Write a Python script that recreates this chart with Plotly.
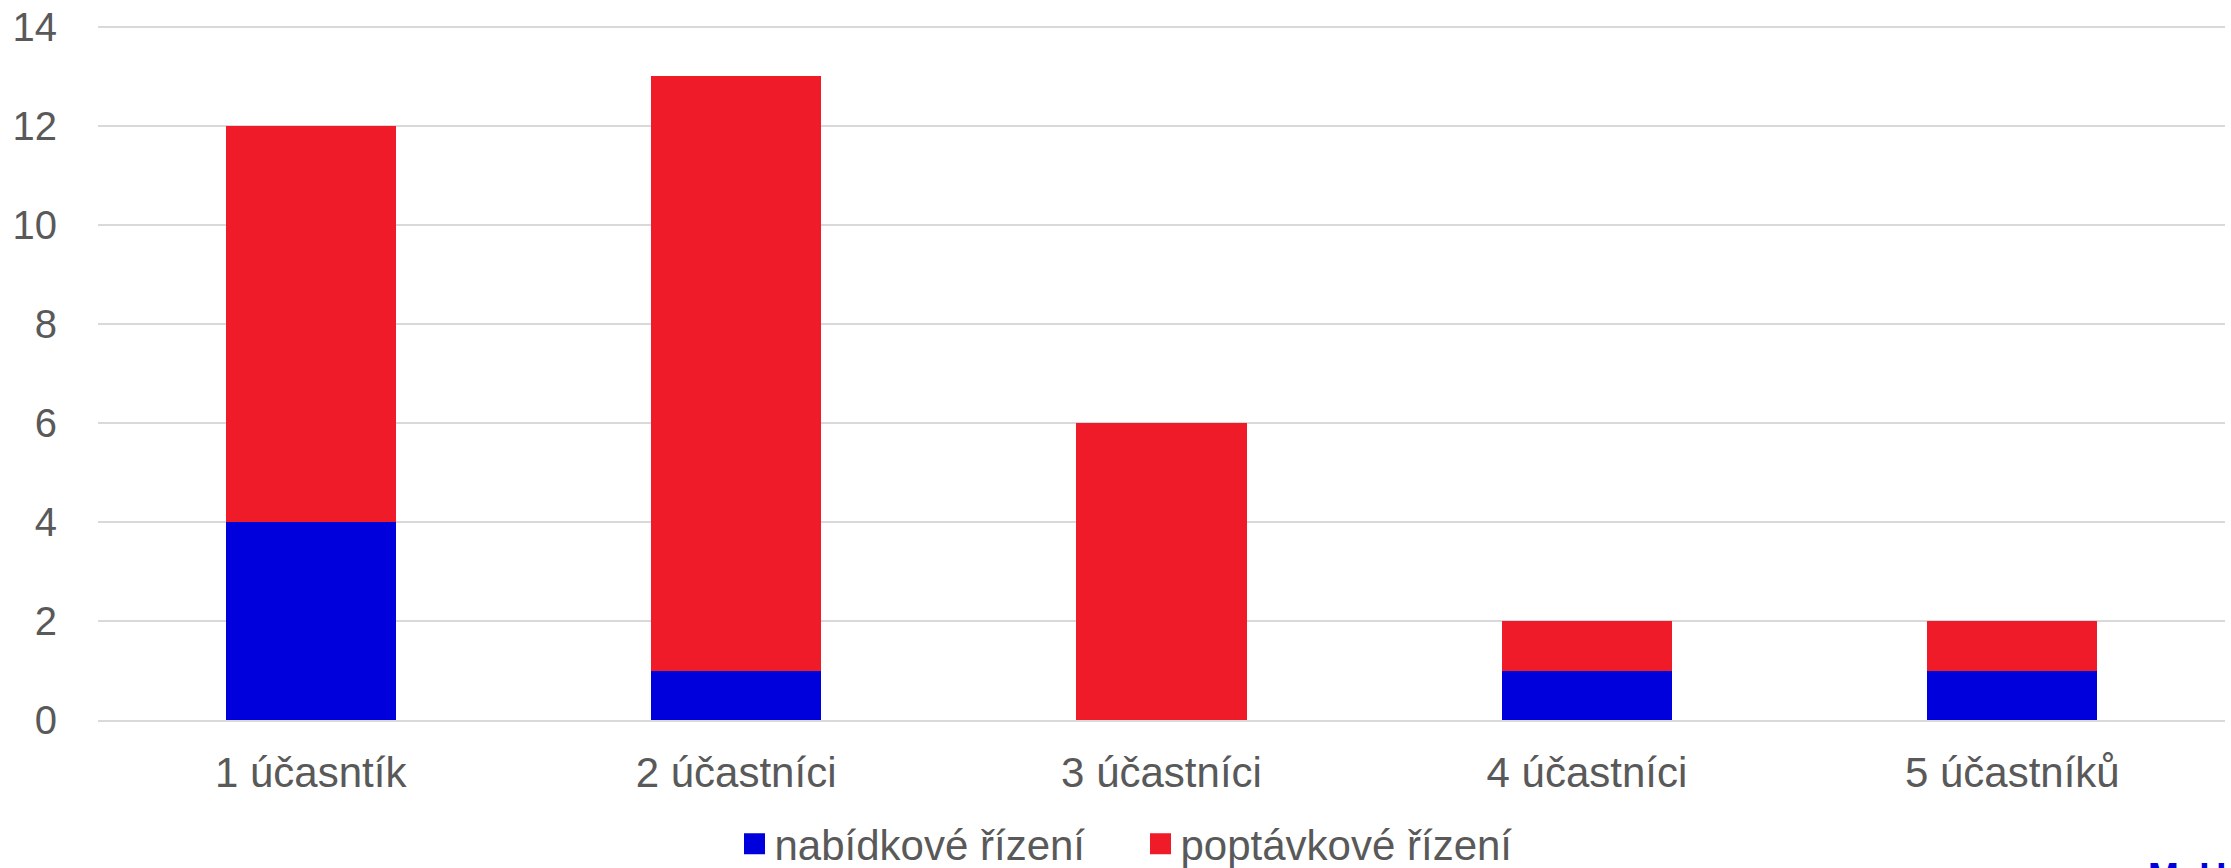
import plotly.graph_objects as go

categories = ["1 účasntík", "2 účastníci", "3 účastníci", "4 účastníci", "5 účastníků"]
nabidkove = [4, 1, 0, 1, 1]
poptavkove = [8, 12, 6, 1, 1]
series_names = ["nabídkové řízení", "poptávkové řízení"]
series_colors = ["#0000DC", "#EF1B29"]
y_ticks = [0, 2, 4, 6, 8, 10, 12, 14]

FONT = "Liberation Sans, Arial, sans-serif"
GRAY = "#595959"

W, H = 2231, 868
ML, MR, MT, MB = 98, 6, 22, 148

fig = go.Figure()
for vals, name, col in zip([nabidkove, poptavkove], series_names, series_colors):
    fig.add_trace(go.Bar(x=categories, y=vals, name=name, showlegend=False,
                         marker=dict(color=col, line=dict(width=0))))
# legend entries with larger square symbols
for name, col in zip(series_names, series_colors):
    fig.add_trace(go.Scatter(x=[None], y=[None], mode="markers", name=name,
                             marker=dict(symbol="square", size=16, color=col,
                                         line=dict(color=col, width=5))))

fig.update_layout(
    width=W, height=H,
    barmode="stack", bargap=0.6,
    margin=dict(l=ML, r=MR, t=MT, b=MB, autoexpand=False),
    paper_bgcolor="white", plot_bgcolor="white",
    font=dict(family=FONT, size=42, color=GRAY),
    legend=dict(orientation="h", xref="container", yref="container",
                x=734.5 / W, xanchor="left", y=1 - 844 / H, yanchor="middle",
                font=dict(size=42, color=GRAY), itemsizing="trace", traceorder="normal",
                itemwidth=30, entrywidthmode="pixels", entrywidth=361,
                bgcolor="rgba(0,0,0,0)"),
    showlegend=True,
)
# partially visible logo lettering at bottom-right edge
fig.add_annotation(text="<b>M\u00a0\u00a0U</b>", xref="paper", yref="paper",
                   x=(2146 - ML) / (W - ML - MR), xanchor="left",
                   y=(720 - 853) / (720 - 27), yanchor="top",
                   showarrow=False, font=dict(size=37, color="#0000DC", family=FONT))

fig.update_yaxes(range=[0, 14.1], tickvals=y_ticks, showgrid=True, gridcolor="#D9D9D9",
                 gridwidth=2, zeroline=False, showline=False, ticks="", ticklabelstandoff=40,
                 automargin=False, tickfont=dict(size=40, color=GRAY))
fig.update_xaxes(showgrid=False, showline=True, linecolor="#D9D9D9", linewidth=2,
                 ticks="", ticklabelstandoff=15, automargin=False,
                 tickfont=dict(size=42, color=GRAY))

fig.write_html("out.html", config={"displayModeBar": False},
               post_script="document.body.style.margin='0';document.body.style.overflow='hidden';")
